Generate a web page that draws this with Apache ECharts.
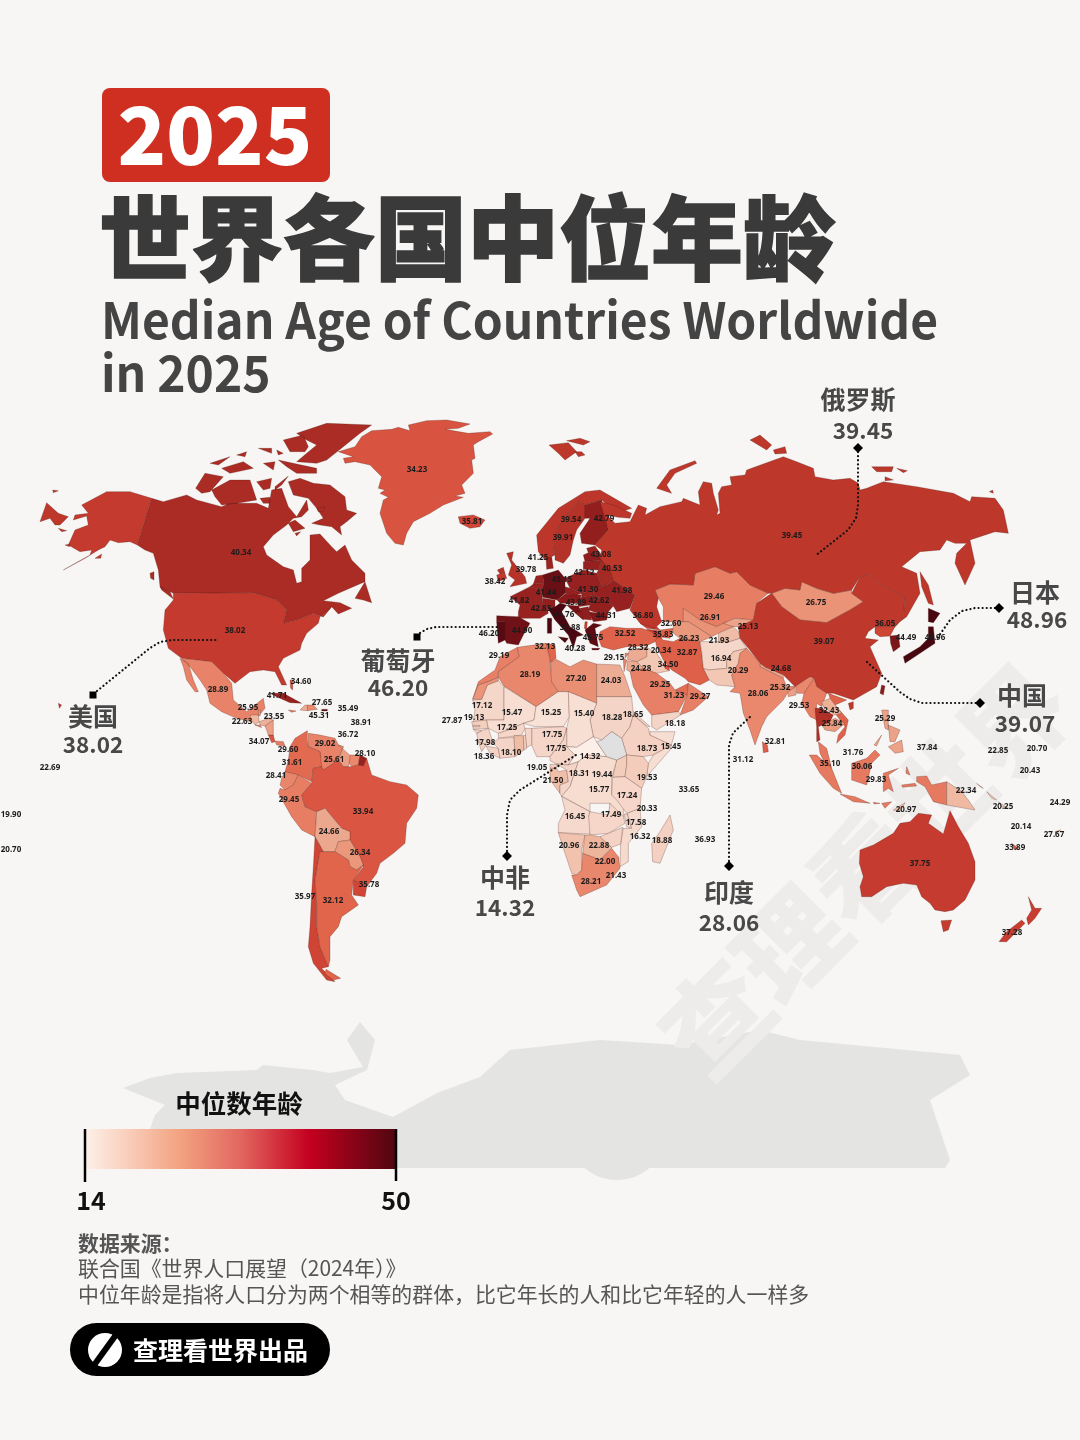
<!DOCTYPE html>
<html>
<head>
<meta charset="utf-8">
<style>html,body{margin:0;padding:0;background:#f7f6f4}#main{width:1080px;height:1440px}</style>
<script src="https://cdn.jsdelivr.net/npm/echarts@6/dist/echarts.min.js"></script>
</head>
<body>
<div id="main"></div>
<script>
const countryNames = ['Greenland','Iceland','Canada','USA','Mexico','Bahamas','Cuba','Dominican Rep.','Puerto Rico','Barbados','Trinidad','Curacao','Belize','Guatemala','Honduras','Costa Rica','Panama','Venezuela','Colombia','Ecuador','Guyana','Suriname','Peru','Brazil','Bolivia','Paraguay','Uruguay','Chile','Argentina','Tonga','Samoa','Kiribati','Morocco','Tunisia','Malta','Algeria','Libya','Egypt','Israel','Lebanon','Iraq','Iran','Syria','Kuwait','Saudi Arabia','UAE','Oman','Yemen','Eritrea','Sudan','Mauritania','Senegal','Cape Verde','Mali','Niger','Chad','Burkina Faso','Nigeria','Cameroon','Guinea','Liberia','Ivory Coast','CAR','Ethiopia','Somalia','Eq. Guinea','Gabon','Congo','Uganda','Kenya','DR Congo','Tanzania','Seychelles','Angola','Zambia','Comoros','Malawi','Mozambique','Madagascar','Mauritius','Namibia','Botswana','Eswatini','Lesotho','South Africa','Norway','Sweden','Finland','Latvia','Denmark','UK','Ireland','Poland','Belarus','Germany','Belgium','Slovakia','Ukraine','France','Switzerland','Austria','Romania','Croatia','Bulgaria','Georgia','Azerbaijan','Armenia','Turkey','Albania','Greece','Spain','Portugal','Kazakhstan','Mongolia','Uzbekistan','Turkmenistan','Kyrgyzstan','Tajikistan','Afghanistan','Pakistan','China','North Korea','South Korea','Japan','Nepal','Bangladesh','India','Myanmar','Vietnam','Cambodia','Philippines','Sri Lanka','Maldives','Brunei','Malaysia','Singapore','Indonesia','Palau','Marshall Is.','Tuvalu','Nauru','PNG','Solomon Is.','Wallis','Timor-Leste','Vanuatu','Fiji','New Caledonia','Australia','New Zealand','Russia'];
const medianAge = [34.23,35.81,40.34,38.02,28.89,34.60,41.71,27.65,45.31,35.49,38.91,36.72,25.95,22.63,23.55,34.07,29.60,29.02,31.61,28.41,25.61,28.10,29.45,33.94,24.66,26.34,35.78,35.97,32.12,22.69,19.90,20.70,29.19,32.13,40.28,28.19,27.20,24.03,29.15,28.32,20.34,32.87,24.28,34.50,29.25,31.23,29.27,18.18,18.65,18.28,17.12,19.13,27.87,15.47,15.25,15.40,17.25,17.75,17.75,17.98,18.36,18.10,14.32,18.73,15.45,19.05,21.50,18.31,19.44,19.53,15.77,17.24,33.65,16.45,17.49,20.33,17.58,16.32,18.88,36.93,20.96,22.88,22.00,21.43,28.21,39.54,39.91,42.79,43.08,41.25,39.78,38.42,42.12,40.53,45.15,41.44,41.30,41.98,41.82,42.83,43.89,42.62,44.76,44.31,36.80,32.60,35.83,32.52,36.88,45.75,44.90,46.20,29.46,26.75,26.91,26.23,25.13,21.93,16.94,20.29,39.07,36.05,44.49,48.96,24.68,25.32,28.06,29.53,32.43,25.84,25.29,32.81,31.12,31.76,30.06,35.10,29.83,37.84,22.85,20.70,20.43,22.34,20.25,24.29,20.97,20.14,27.67,33.89,37.75,37.28,39.45];
// shaded on the map but printed without a number in the reference
const unlabelledNames = ['Western Sahara','Ghana','Zimbabwe','Togo','Benin','Sierra Leone','Gambia','Guinea-Bissau','Jordan','Netherlands','Czechia','Hungary','Serbia','Bosnia','Estonia','Lithuania','Italy','Thailand','Laos','Taiwan','El Salvador','Nicaragua','Haiti','Jamaica'];
const unlabelledAge = [26.5,21.9,18.6,19.2,17.6,18.7,17.5,18.0,24.5,42.0,42.5,43.5,43.0,43.0,41.5,42.5,48.4,40.1,23.5,44.0,28.0,25.5,24.0,31.0];

const legendMin = 14;
const legendMax = 50;
// one stop every 1.5 years from 14 to 50
const legendStops = ['#fdf4ee','#f7ddd1','#f5d7ca','#f4d3c5','#f2c9b7','#f0bfa9','#eeb49c','#ecaa91','#ea9a7e','#e98c70','#e88268','#e4745b','#e0664c','#dc5b45','#d44a3a','#cc4133','#c43a2e','#bd372b','#9c2421','#94201f','#8b1a1c','#5e0b14','#520912','#4a0711','#420510'];

// zoomed crops the outlines were read from: left, top, scale
const frames = {abs:[0,0,1],na:[30,410,3],sa:[220,660,3],eu:[470,480,3],af:[430,640,3],as:[620,430,3],oc:[720,660,3],hi:[0,660,3],gr:[330,410,3],au:[660,680,3]};

const outlines = {
  'Greenland':['gr:25,125 75,110 95,80 125,62 185,58 205,52 240,62 235,45 290,32 350,30 420,42 385,55 345,58 415,70 480,65 488,72 445,95 430,105 435,145 425,150 430,190 410,210 395,225 405,250 375,258 400,262 340,285 300,310 250,335 230,370 220,405 195,400 170,370 150,310 160,270 175,262 150,250 165,240 145,235 155,200 120,165 75,155 45,160 40,145 70,140'],
  'Iceland':['gr:385,320 430,315 465,330 450,350 420,355 390,340'],
  'Canada':['na:365,265 400,275 470,255 500,270 575,290 600,280 680,280 715,295 725,240 755,235 775,290 800,320 830,270 835,300 815,320 790,325 770,345 730,375 700,410 710,435 760,470 790,480 800,520 815,515 815,475 840,450 840,375 870,372 905,410 920,425 945,405 965,450 1005,490 1005,515 970,530 925,550 880,572 930,578 965,595 925,612 905,590 880,620 850,610 800,630 760,640 770,600 740,570 670,548 430,550 390,530 385,480 370,430 345,420 322,405',
    'na:975,565 1005,515 1025,578 1000,570','na:390,530 420,545 430,567 395,540','na:360,490 372,485 372,510 362,505',
    'na:775,215 810,205 850,220 900,225 945,260 950,300 980,310 950,335 930,350 935,375 905,350 870,345 845,340 880,325 860,295 835,265 790,255',
    'na:545,240 600,210 660,210 680,270 620,280 575,285 555,260','na:497,235 525,190 580,200 540,245 515,250',
    'na:800,70 890,40 1025,45 990,70 940,110 890,150 860,160 800,155 830,130 860,105 830,90','na:760,90 820,75 835,110 825,125 780,125',
    'na:540,160 600,140 565,165','na:575,175 640,155 670,175 600,190','na:700,160 735,155 730,180','na:685,115 725,115 725,130','na:740,120 760,130 745,135','na:620,135 650,125 645,140',
    'na:745,150 790,160 860,175 860,190 800,190 770,170','na:680,215 725,205 720,235 700,240','na:735,230 775,198 755,225 735,240','na:775,340 795,330 825,355 790,365','na:690,265 720,262 720,280 700,280','na:795,370 812,365 800,378','na:860,295 885,290 880,305 865,305'],
  'USA':['na:365,265 322,405 300,395 265,398 240,390 225,410 205,420 165,445 100,480 180,435 185,420 150,425 115,405 135,360 175,345 170,318 130,330 135,315 175,310 155,285 230,245 300,245',
    'na:430,550 670,548 740,570 770,600 760,640 800,630 850,610 880,620 905,590 870,620 865,640 830,670 815,700 810,720 760,745 745,770 770,825 755,825 735,785 700,780 660,785 615,820 580,790 545,755 500,750 455,745 415,715 400,660 405,600 430,570',
    'na:105,405 120,402 118,410','na:195,445 215,432 212,445','hi:175,130 185,135 178,145'],
  'Mexico':['na:455,745 500,750 545,755 580,790 605,820 610,870 650,905 700,865 705,895 680,925 665,935 620,925 575,905 540,880 530,840 510,810 480,770','na:450,745 475,760 490,810 505,845 495,845 470,810 460,770'],
  'Bahamas':['sa:210,60 218,62 218,90 212,85'],
  'Cuba':['sa:150,100 190,100 245,130 210,128 170,110'],
  'Haiti':['sa:255,135 262,135 262,152 240,150'],
  'Jamaica':['sa:205,150 228,153 215,157'],
  'Dominican Rep.':['sa:262,135 280,135 292,148 262,152'],
  'Puerto Rico':['sa:305,148 322,148 322,153 305,153'],
  'Belize':['sa:115,150 122,150 120,168 115,165'],
  'Guatemala':['sa:90,165 115,165 118,185 105,195 95,182'],
  'Honduras':['sa:118,185 145,175 160,180 135,198 120,195'],
  'El Salvador':['sa:105,195 120,195 125,203'],
  'Nicaragua':['sa:135,198 160,180 160,225 145,225'],
  'Costa Rica':['sa:145,225 160,225 165,245 155,248'],
  'Panama':['sa:165,243 190,245 195,258 170,255'],
  'Venezuela':['sa:265,220 300,225 345,235 355,255 370,260 355,300 340,310 310,330 300,320 300,275 265,260'],
  'Colombia':['sa:210,260 225,235 262,212 262,240 265,260 300,275 305,320 280,325 275,365 235,345 195,335 205,300'],
  'Ecuador':['sa:185,355 195,335 235,345 220,375 195,390 180,375'],
  'Peru':['sa:180,385 195,390 220,375 235,345 275,370 245,405 255,440 290,455 285,530 245,510 215,470 175,400'],
  'Guyana':['sa:355,255 395,290 385,320 370,320 355,300 370,260'],
  'Suriname':['sa:390,285 420,285 415,315 395,320 388,310'],
  'Brazil':['sa:440,295 455,345 510,365 560,375 595,405 590,445 560,490 555,550 520,580 480,610 470,640 440,680 400,660 430,620 420,590 390,540 390,515 365,505 315,445 290,455 255,440 245,405 275,370 280,325 305,320 310,330 340,310 355,300 370,320 385,320 395,320 415,315 430,318'],
  'Bolivia':['sa:290,455 315,445 365,505 390,515 390,540 355,545 345,575 310,575 285,530'],
  'Paraguay':['sa:355,545 390,540 420,590 430,615 410,630 390,620 385,600 345,575'],
  'Uruguay':['sa:400,660 440,680 435,710 400,705'],
  'Chile':['sa:285,530 310,575 300,575 285,660 290,730 290,800 300,860 325,920 305,925 345,965 320,960 280,910 265,860 270,800 275,700 280,620'],
  'Argentina':['sa:310,575 345,575 385,600 390,620 410,630 430,615 400,660 395,705 415,735 365,770 355,800 330,830 330,900 325,920 300,860 290,800 290,730 285,660 300,575','sa:318,928 362,955 340,960 315,942'],
  'Western Sahara':['af:128,178 145,135 175,125 205,112 205,122 172,135 155,178'],
  'Morocco':['af:262,22 268,50 205,95 205,112 175,125 145,135 128,178 145,125 195,90 210,50'],
  'Algeria':['af:262,22 348,10 360,60 365,125 385,155 318,200 222,138 205,112 205,95 268,50'],
  'Tunisia':['af:345,10 375,15 378,55 362,68 355,40'],
  'Libya':['af:378,58 420,80 460,60 500,72 500,190 415,155 385,155 365,125 362,68'],
  'Egypt':['af:500,72 570,75 585,110 605,170 500,170'],
  'Israel':['af:580,55 590,60 582,95'],
  'Lebanon':['af:585,40 597,40 585,55'],
  'Syria':['af:597,32 650,20 650,50 620,65 592,58'],
  'Jordan':['af:592,62 620,65 640,85 600,95 590,90'],
  'Iraq':['af:650,22 680,40 700,70 718,92 680,100 640,85 620,65 650,50'],
  'Kuwait':['af:700,72 718,78 718,92 705,85'],
  'Saudi Arabia':['af:600,95 640,85 680,100 720,130 735,150 772,165 745,215 665,225 640,195 610,140'],
  'UAE':['af:735,150 775,130 772,165'],
  'Oman':['af:775,130 835,170 790,210 750,225 772,165'],
  'Yemen':['af:665,225 745,215 752,225 680,270 665,260'],
  'Eritrea':['af:605,210 660,260 650,258 610,225'],
  'Sudan':['af:500,170 605,170 610,225 600,260 575,295 545,275 515,300 490,290 480,240 500,190'],
  'Mauritania':['af:128,180 155,178 172,135 205,122 222,140 222,240 170,240 130,245 135,210'],
  'Mali':['af:222,140 318,200 312,240 280,250 235,270 205,280 175,265 170,240 222,240'],
  'Niger':['af:318,200 385,155 415,155 418,230 400,260 315,260 280,250 312,240'],
  'Chad':['af:415,155 500,190 480,240 490,290 440,322 410,320 410,265 418,230'],
  'Senegal':['af:125,245 170,240 175,265 130,268'],
  'Gambia':['af:130,256 150,256 150,260 130,260'],
  'Guinea-Bissau':['af:130,268 155,272 140,280'],
  'Guinea':['af:140,280 155,272 175,265 190,310 170,315 145,305'],
  'Sierra Leone':['af:145,305 168,315 155,335'],
  'Liberia':['af:168,318 205,325 210,355 180,340'],
  'Ivory Coast':['af:190,310 205,295 252,292 255,350 210,355 205,325'],
  'Burkina Faso':['af:205,280 235,270 280,250 285,265 275,285 205,295'],
  'Ghana':['af:252,287 280,287 282,330 255,350'],
  'Togo':['af:280,287 288,285 290,325 282,330'],
  'Benin':['af:285,265 305,265 305,315 290,322'],
  'Nigeria':['af:305,265 400,260 410,265 400,300 360,350 320,350 305,315'],
  'Cameroon':['af:360,350 400,300 410,265 410,320 435,345 415,375 380,372 360,362'],
  'CAR':['af:410,320 440,322 490,290 500,305 530,350 470,345 445,365 415,375 435,345'],
  'Eq. Guinea':['af:360,373 380,373 380,385 360,385'],
  'Gabon':['af:360,385 380,385 385,395 410,390 415,425 390,435 390,460 360,420'],
  'Congo':['af:415,375 445,365 420,440 395,470 390,460 390,435 415,425 410,390 380,372'],
  'DR Congo':['af:445,365 470,345 530,350 560,360 545,415 545,465 580,490 580,530 540,525 540,490 480,490 480,515 395,468 420,440'],
  'Uganda':['af:560,360 590,345 590,375 585,410 548,412'],
  'Kenya':['af:590,345 640,350 655,370 650,410 635,445 585,410 590,375'],
  'Ethiopia':['af:600,260 610,225 655,265 660,285 725,315 670,345 640,350 590,345 575,295'],
  'Somalia':['af:660,275 735,275 720,330 650,410 655,370 670,345 725,315 660,285'],
  'Tanzania':['af:548,412 585,410 635,445 630,505 590,520 560,480 545,465'],
  'Angola':['af:395,470 480,515 476,530 495,522 480,582 385,578 385,550 405,510'],
  'Zambia':['af:480,515 535,525 540,490 580,530 585,550 535,580 480,585 476,530'],
  'Malawi':['af:582,522 592,522 605,565 590,560'],
  'Mozambique':['af:592,520 630,505 635,560 595,610 595,665 570,680 572,612 580,565 605,565'],
  'Zimbabwe':['af:535,580 578,562 572,612 545,622 510,590'],
  'Namibia':['af:385,578 465,585 455,630 455,690 440,705 425,700 405,640'],
  'Botswana':['af:465,585 480,585 510,590 545,622 510,660 490,652 458,640'],
  'South Africa':['af:425,705 440,705 455,690 458,640 490,652 510,660 545,625 565,650 570,685 530,735 450,770 440,750'],
  'Eswatini':['af:555,655 566,652 566,668 555,668'],
  'Lesotho':['af:520,712 535,704 538,716 528,724'],
  'Madagascar':['af:720,525 730,570 690,670 668,665 665,610 690,575'],
  'Norway':['eu:200,165 265,85 345,35 390,30 485,85 440,100 395,60 345,75 325,65 270,130 250,190 255,225 225,240 205,215'],
  'Sweden':['eu:250,190 270,130 325,65 345,75 345,115 320,150 310,180 300,225 280,250 255,240 255,225'],
  'Finland':['eu:345,75 395,60 415,150 375,195 335,190 330,160 360,115 345,115'],
  'Denmark':['eu:228,235 245,230 250,265 230,268'],
  'UK':['eu:110,220 130,215 125,240 165,290 170,310 120,320 135,300 115,285 125,255','eu:82,270 100,262 105,280 90,282'],
  'Ireland':['eu:80,285 90,282 105,280 110,295 85,305'],
  'France':['eu:120,350 180,320 215,330 218,368 232,385 235,400 210,415 145,415 145,395 150,375','eu:235,415 245,420 238,432','sa:420,285 440,295 430,318 415,315'],
  'Netherlands':['eu:198,288 218,285 222,310 190,312'],
  'Belgium':['eu:180,320 190,312 222,310 215,330'],
  'Germany':['eu:218,285 265,270 285,295 285,340 262,360 218,352 215,330 222,310'],
  'Switzerland':['eu:218,355 255,360 255,380 232,385 218,368'],
  'Poland':['eu:285,295 340,270 380,280 395,320 370,330 335,340 300,325'],
  'Estonia':['eu:350,205 375,198 392,222 355,218'],
  'Latvia':['eu:340,225 355,218 392,222 395,240 345,245'],
  'Lithuania':['eu:340,245 395,240 385,270 340,268'],
  'Belarus':['eu:380,280 385,270 395,240 420,250 430,300 420,310 395,320'],
  'Ukraine':['eu:395,320 420,310 430,300 495,345 480,385 440,395 430,378 405,360 370,345 370,330'],
  'Czechia':['eu:285,320 300,325 335,340 320,345 300,345 285,340'],
  'Slovakia':['eu:335,340 370,330 370,345 335,352'],
  'Austria':['eu:262,360 285,342 335,345 320,370 270,370'],
  'Hungary':['eu:320,355 335,352 370,345 360,375 325,380'],
  'Romania':['eu:370,345 405,360 430,378 415,395 385,400 355,390 360,375'],
  'Bulgaria':['eu:355,395 385,400 415,395 410,420 370,425'],
  'Serbia':['eu:330,385 355,380 365,420 340,418'],
  'Croatia':['eu:290,375 325,378 335,395 340,420 315,398'],
  'Bosnia':['eu:315,398 335,395 340,418'],
  'Albania':['eu:345,425 352,425 350,450 343,445'],
  'Greece':['eu:345,450 370,430 395,435 375,445 385,500 360,490','eu:365,505 390,505 385,510 367,510'],
  'Italy':['eu:232,385 255,380 270,370 290,375 275,395 300,440 340,465 320,470 310,505 295,465 255,420 240,395','eu:265,470 295,475 285,488','eu:232,415 245,415 245,460 232,460'],
  'Spain':['eu:80,407 145,410 180,430 160,465 145,495 110,490 105,480 105,425 80,425'],
  'Portugal':['eu:80,425 105,425 105,480 85,490'],
  'Turkey':['eu:390,455 420,440 470,445 515,445 545,455 560,475 555,485 530,497 470,500 430,510 395,500 385,475'],
  'Georgia':['eu:510,430 560,440 570,450 530,445'],
  'Armenia':['eu:530,448 570,452 575,475 545,470'],
  'Azerbaijan':['eu:570,450 610,445 600,475 575,472'],
  'Iran':['as:100,605 130,630 160,635 180,625 200,628 240,635 245,670 250,715 268,750 240,765 205,755 195,745 155,720 130,690 110,650'],
  'Kazakhstan':['as:105,480 150,462 220,465 225,430 285,410 330,430 350,425 390,465 445,490 420,510 410,520 400,570 345,565 310,580 290,590 240,570 190,535 190,575 130,575 130,530 115,505'],
  'Uzbekistan':['as:190,535 240,570 290,590 320,575 340,590 315,600 295,610 275,620 205,575 190,575'],
  'Turkmenistan':['as:160,580 190,575 205,575 275,620 240,635 200,628 180,625 160,610'],
  'Kyrgyzstan':['as:310,580 345,565 400,570 385,590 340,590'],
  'Tajikistan':['as:295,610 340,590 355,605 360,625 330,635 295,635'],
  'Afghanistan':['as:245,665 240,635 295,635 330,635 360,625 380,655 340,665 320,690 320,715 265,720 250,715'],
  'Pakistan':['as:250,715 265,720 320,715 320,690 340,665 380,655 360,670 355,700 335,735 345,770 290,765 268,750'],
  'China':['as:355,590 400,570 410,520 455,490 485,530 540,570 620,578 690,540 730,515 695,490 720,440 745,432 790,470 855,500 850,560 825,590 765,590 745,605 735,625 775,630 750,650 785,730 770,770 700,810 640,790 620,790 590,770 582,745 570,740 525,770 500,745 490,735 435,712 420,700 385,655 360,625','oc:385,130 400,125 400,145 390,150'],
  'Mongolia':['as:455,490 495,475 540,480 545,455 590,475 640,490 695,480 695,490 730,515 690,540 620,578 540,570 485,530'],
  'North Korea':['as:765,590 825,590 810,618 780,620 765,610'],
  'South Korea':['as:810,618 835,615 840,650 820,665 812,640'],
  'Japan':['as:925,535 960,550 940,578 925,575','as:925,590 940,590 945,640 900,670 855,700 850,680 900,650 925,625'],
  'Taiwan':['oc:485,75 495,78 490,105 480,100'],
  'Nepal':['as:420,700 435,712 490,735 490,745 420,710'],
  'Bangladesh':['as:500,770 525,770 528,795 505,800'],
  'India':['as:360,670 380,655 420,700 420,710 490,745 500,770 525,770 570,740 582,745 552,790 530,790 528,770 505,785 490,810 440,860 425,890 405,945 390,900 370,850 360,790 330,785 345,770 335,735 355,700'],
  'Myanmar':['as:552,790 582,745 590,770 620,790 605,830 590,820 590,870 570,860 545,820'],
  'Thailand':['oc:285,145 305,145 340,165 330,185 295,200 300,240 290,245 290,200'],
  'Laos':['oc:305,125 330,115 365,160 345,165 310,140'],
  'Vietnam':['oc:325,100 380,120 345,135 385,180 375,225 350,250 355,225 375,200 345,160 330,115'],
  'Cambodia':['oc:305,195 345,175 375,190 345,215 315,210'],
  'Malaysia':['oc:295,245 320,265 335,325 320,320 300,280','oc:395,310 440,295 465,270 480,285 455,310 425,320 395,325'],
  'Indonesia':['oc:268,285 290,285 335,325 365,400 340,385 300,340','oc:360,402 405,410 450,430 400,425','oc:395,325 425,320 455,310 440,375 395,360','oc:490,340 535,325 505,345 520,395 505,385 490,395','oc:460,427 480,430 462,432','oc:485,430 515,425 495,445','oc:560,320 570,345 558,340','oc:545,375 585,370 590,378 548,382','oc:590,350 620,348 635,375 680,365 680,435 640,425 615,380 590,365'],
  'Timor-Leste':['oc:520,450 555,428 540,455'],
  'PNG':['oc:680,365 720,390 745,420 765,450 735,445 680,435','oc:770,370 790,385 780,380'],
  'Solomon Is.':['oc:800,395 830,420 815,415','oc:835,425 860,442 845,440'],
  'Philippines':['oc:485,150 505,150 505,210 495,205','oc:505,195 540,210 525,245 510,245','oc:505,260 545,240 550,275 525,280','oc:462,255 485,225 470,258'],
  'Sri Lanka':['oc:127,245 142,255 145,275 130,278'],
  'Australia':['au:600,510 640,495 700,460 720,430 750,425 775,400 815,405 805,430 850,462 870,392 895,440 925,490 945,545 945,600 915,660 880,690 855,695 825,690 810,670 785,650 770,615 730,610 680,620 635,650 605,650 600,620 610,590 598,550','au:843,722 875,720 865,750 850,755'],
  'New Zealand':['au:1105,650 1125,685 1145,685 1125,715 1105,735 1100,715 1115,690','au:1085,720 1095,730 1060,765 1040,785 1017,785 1040,755'],
  'New Caledonia':['oc:875,550 895,565 885,570'],
  'Fiji':['oc:1005,515 1022,510 1008,522'],
  'Russia':['as:-60,215 -20,225 35,250 30,265 -5,262 -40,255 -15,280 30,275 55,225 80,235 75,255 120,230 185,215 190,205 240,225 235,185 250,155 275,160 280,190 295,240 290,255 300,250 295,190 305,170 335,165 330,140 375,135 380,120 490,80 530,95 580,115 585,140 640,150 690,145 715,160 720,180 740,175 790,155 890,170 1000,190 1050,215 1055,200 1125,205 1150,240 1165,310 1125,305 1050,330 1065,400 1035,465 1005,400 1010,370 1040,340 1005,340 980,330 960,360 900,365 845,410 890,430 900,490 860,560 840,575 825,590 850,560 855,500 790,470 745,432 720,440 695,480 640,490 590,475 545,455 540,480 495,475 455,490 445,490 390,465 350,425 330,430 285,410 225,430 220,465 150,462 105,480 115,505 110,530 125,575 105,595 60,580 30,540 45,495 -20,450 -30,420 -60,385 -55,360 -75,345 -35,300',
    'as:900,425 925,465 940,525 925,520 905,470','as:110,175 150,120 225,92 230,100 165,130 140,165 155,190','as:390,30 420,15 455,45 440,60','as:460,60 495,50 500,70 465,72','as:755,110 820,110 815,125 770,125','as:830,115 862,122 850,128','as:795,140 820,150 795,152','as:1108,185 1118,180 1120,190',
    'na:30,335 50,278 85,310 115,320 90,345 75,345 60,325','na:68,240 85,242 70,248','na:85,355 110,362 95,365','gr:657,105 715,98 740,125 705,150 685,130','gr:710,92 750,85 780,95 760,105','gr:735,125 755,125 765,135 745,140']
};

const labelSpots = {
  'Greenland':[417,470],'Iceland':[472,522],'Canada':[241,553],'USA':[235,631],'Mexico':[218,690],'Bahamas':[301,682],'Cuba':[277,696],'Dominican Rep.':[322,703],'Puerto Rico':[319,716],'Barbados':[348,709],'Trinidad':[361,723],'Curacao':[348,735],'Belize':[248,708],'Guatemala':[242,722],'Honduras':[274,717],'Costa Rica':[259,742],'Panama':[288,750],'Venezuela':[325,744],'Colombia':[292,763],'Ecuador':[276,776],'Guyana':[334,760],'Suriname':[365,754],'Peru':[289,800],'Brazil':[363,812],'Bolivia':[329,832],'Paraguay':[360,853],'Uruguay':[369,885],'Chile':[305,897],'Argentina':[333,901],'Tonga':[50,768],'Samoa':[11,815],'Kiribati':[11,850],
  'Morocco':[499,656],'Tunisia':[545,647],'Malta':[575,649],'Algeria':[530,675],'Libya':[576,679],'Egypt':[611,681],'Israel':[614,658],'Lebanon':[638,648],'Iraq':[661,651],'Iran':[687,653],'Syria':[641,669],'Kuwait':[668,665],'Saudi Arabia':[660,685],'UAE':[674,696],'Oman':[700,697],'Yemen':[675,724],'Eritrea':[633,715],'Sudan':[612,718],'Mauritania':[482,706],'Senegal':[474,718],'Cape Verde':[452,721],'Mali':[512,713],'Niger':[551,713],'Chad':[584,714],'Burkina Faso':[507,728],'Nigeria':[552,735],'Cameroon':[556,749],'Guinea':[485,743],'Liberia':[484,757],'Ivory Coast':[511,753],'CAR':[590,757],'Ethiopia':[647,749],'Somalia':[671,747],'Eq. Guinea':[537,768],'Gabon':[553,781],'Congo':[579,774],'Uganda':[602,775],'Kenya':[647,778],'DR Congo':[599,790],'Tanzania':[627,796],'Seychelles':[689,790],'Angola':[575,817],'Zambia':[611,815],'Comoros':[647,809],'Malawi':[636,823],'Mozambique':[640,837],'Madagascar':[662,841],'Mauritius':[705,840],'Namibia':[569,846],'Botswana':[599,846],'Eswatini':[605,862],'Lesotho':[616,876],'South Africa':[591,882],
  'Norway':[571,520],'Sweden':[563,538],'Finland':[604,519],'Latvia':[601,555],'Denmark':[538,558],'UK':[526,570],'Ireland':[495,582],'Poland':[584,573],'Belarus':[612,569],'Germany':[562,580],'Belgium':[546,593],'Slovakia':[588,590],'Ukraine':[622,591],'France':[519,601],'Switzerland':[541,609],'Austria':[576,603],'Romania':[599,601],'Croatia':[564,615],'Bulgaria':[606,616],'Georgia':[643,616],'Azerbaijan':[671,624],'Armenia':[663,635],'Turkey':[625,634],'Albania':[570,628],'Greece':[593,638],'Spain':[522,631],'Portugal':[489,634],
  'Kazakhstan':[714,597],'Mongolia':[816,603],'Uzbekistan':[710,618],'Turkmenistan':[689,639],'Kyrgyzstan':[748,627],'Tajikistan':[719,641],'Afghanistan':[721,659],'Pakistan':[738,671],'China':[824,642],'North Korea':[885,624],'South Korea':[906,638],'Japan':[935,638],'Nepal':[781,669],'Bangladesh':[780,688],'India':[758,694],'Myanmar':[799,706],'Vietnam':[829,711],'Cambodia':[832,724],'Philippines':[885,719],'Sri Lanka':[775,742],'Maldives':[743,760],'Brunei':[853,753],'Malaysia':[862,767],'Singapore':[830,764],'Indonesia':[876,780],'Palau':[927,748],'Marshall Is.':[998,751],'Tuvalu':[1037,749],'Nauru':[1030,771],'PNG':[966,791],'Solomon Is.':[1003,807],'Wallis':[1060,803],'Timor-Leste':[906,810],'Vanuatu':[1021,827],'Fiji':[1054,835],'New Caledonia':[1015,848],'Australia':[920,864],'New Zealand':[1012,933],'Russia':[792,536]
};

// callouts: text, value, marker, dotted leader
const callouts = [
  {name:'俄罗斯',value:'39.45',at:[858,399],valueAt:[863,430],marker:'diamond',mark:[858,448],path:[[858,452],[858,505],[856,518],[848,530],[815,556]]},
  {name:'日本',value:'48.96',at:[1035,592],valueAt:[1037,619],marker:'diamond',mark:[999,608],path:[[995,608],[975,608],[962,611],[950,620],[936,640]]},
  {name:'中国',value:'39.07',at:[1022,695],valueAt:[1025,723],marker:'diamond',mark:[980,703],path:[[867,662],[900,692],[910,699],[922,703],[976,703]]},
  {name:'葡萄牙',value:'46.20',at:[398,660],valueAt:[398,687],marker:'square',mark:[417,637],path:[[420,633],[427,629],[436,627],[497,627]]},
  {name:'美国',value:'38.02',at:[93,716],valueAt:[93,744],marker:'square',mark:[93,695],path:[[97,691],[150,648],[160,642],[172,640],[219,640]]},
  {name:'中非',value:'14.32',at:[505,877],valueAt:[505,907],marker:'diamond',mark:[507,856],path:[[507,851],[507,815],[510,800],[520,790],[576,755]]},
  {name:'印度',value:'28.06',at:[729,892],valueAt:[729,922],marker:'diamond',mark:[729,866],path:[[729,861],[729,745],[733,733],[751,716]]}
];

const toGeoRing = ring => {
  const [frameName, pts] = ring.split(':');
  const [ox, oy, s] = frames[frameName];
  const coords = pts.trim().split(/\s+/).map(p => {
    const [x, y] = p.split(',').map(Number);
    return [ox + x / s, -(oy + y / s)];
  });
  coords.push(coords[0]);
  return [coords];
};

const allNames = countryNames.concat(unlabelledNames, ['South Sudan']);
outlines['South Sudan'] = ['af:500,305 515,300 545,275 575,295 590,345 560,360 530,350'];

const features = allNames.map(name => {
  const spot = labelSpots[name];
  let rings = (outlines[name] || []).map(toGeoRing);
  // tiny island states have no visible outline, only their number
  if (!rings.length) {
    rings = [[[[spot[0], -spot[1]], [spot[0] + 0.1, -spot[1]], [spot[0], -spot[1] - 0.1], [spot[0], -spot[1]]]]];
  }
  return {
    type: 'Feature',
    properties: spot ? {name: name, cp: [spot[0], -spot[1]]} : {name: name},
    geometry: {type: 'MultiPolygon', coordinates: rings}
  };
});

echarts.registerMap('worldAge', {type: 'FeatureCollection', features: features});

const chart = echarts.init(document.getElementById('main'));

const seriesData = countryNames.map((n, i) => ({name: n, value: medianAge[i]}))
  .concat(unlabelledNames.map((n, i) => ({name: n, value: unlabelledAge[i], label: {show: false}})));

const cjk = '"Noto Sans CJK SC"';
const text = (str, x, y, size, color, weight, align, z) => ({
  type: 'text', x: x, y: y, z: z === undefined ? 100 : z, silent: true,
  style: {text: str, fill: color, font: `${weight} ${size}px ${cjk}`, textAlign: align || 'left', textVerticalAlign: 'middle'}
});

const landShadow = [[123,1088],[150,1078],[177,1073],[257,1070],[263,1065],[313,1070],[330,1073],[363,1067],[347,1040],[360,1022],[375,1040],[367,1070],[335,1085],[345,1100],[393,1117],[437,1093],[480,1077],[510,1050],[600,1040],[680,1045],[760,1030],[800,1040],[960,1055],[970,1075],[930,1100],[950,1160],[945,1168],[398,1168],[150,1168],[150,1129],[155,1115],[165,1105]];

const heading = text('世界各国中位年龄',99,238,92,'#3a3a3a',900);
heading.style.stroke = '#3a3a3a';
heading.style.lineWidth = 1.5;
const subHead1 = text('Median Age of Countries Worldwide',101,320,50,'#444444',600);
subHead1.scaleX = 0.96;
const subHead2 = text('in 2025',101,373,50,'#444444',600);
subHead2.scaleX = 0.96;

const decoration = [
  {type:'polygon',z:0,silent:true,shape:{points:landShadow},style:{fill:'#e4e4e3'}},
  {type:'circle',z:0,silent:true,shape:{cx:617,cy:1130,r:50},style:{fill:'#e4e4e3'}},
  {type:'text',z:1,silent:true,x:865,y:870,rotation:Math.PI/4,style:{text:'查理看世界',fill:'#edecea',font:`900 105px ${cjk}`,textAlign:'center',textVerticalAlign:'middle'}},
  {type:'rect',z:100,silent:true,shape:{x:102,y:88,width:228,height:94,r:8},style:{fill:'#cf2f20'}},
  text('2025',215,135,80,'#ffffff',900,'center'),
  heading,
  subHead1,
  subHead2,
  {type:'rect',z:100,silent:true,shape:{x:85,y:1129,width:312,height:40},style:{fill:new echarts.graphic.LinearGradient(0,0,1,0,[{offset:0,color:'#fdf1ea'},{offset:0.3,color:'#f3a482'},{offset:0.5,color:'#e2665f'},{offset:0.72,color:'#c4001f'},{offset:1,color:'#4f0710'}])}},
  {type:'line',z:101,silent:true,shape:{x1:85,y1:1129,x2:85,y2:1182},style:{stroke:'#000',lineWidth:2.5}},
  {type:'line',z:101,silent:true,shape:{x1:396,y1:1129,x2:396,y2:1181},style:{stroke:'#000',lineWidth:2.5}},
  text('中位数年龄',239,1103,25.5,'#111111',700,'center'),
  text(String(legendMin),91,1200,25,'#111111',700,'center'),
  text(String(legendMax),396,1200,25,'#111111',700,'center'),
  text('数据来源：',78,1243,20.9,'#555555',700),
  text('联合国《世界人口展望（2024年）》',78,1268,20.9,'#555555',400),
  text('中位年龄是指将人口分为两个相等的群体，比它年长的人和比它年轻的人一样多',78,1294,20.9,'#555555',400),
  {type:'rect',z:100,silent:true,shape:{x:70,y:1323,width:260,height:53,r:26.5},style:{fill:'#000'}},
  {type:'circle',z:101,silent:true,shape:{cx:105,cy:1350,r:17},style:{fill:'#fff'}},
  {type:'rect',z:102,silent:true,x:105,y:1350,rotation:-Math.PI/5,shape:{x:-3,y:-20,width:6,height:40},style:{fill:'#000'}},
  text('查理看世界出品',133,1350,25,'#ffffff',700)
];

callouts.forEach(c => {
  decoration.push({type:'polyline',z:50,silent:true,shape:{points:c.path},style:{fill:'none',stroke:'#111',lineWidth:2.2,lineDash:[0.1,4],lineCap:'round'}});
  const m = c.mark;
  if (c.marker === 'square') {
    decoration.push({type:'rect',z:51,silent:true,shape:{x:m[0]-3.5,y:m[1]-3.5,width:7,height:7},style:{fill:'#000'}});
  } else {
    decoration.push({type:'polygon',z:51,silent:true,shape:{points:[[m[0],m[1]-5],[m[0]+5,m[1]],[m[0],m[1]+5],[m[0]-5,m[1]]]},style:{fill:'#000'}});
  }
  decoration.push(text(c.name,c.at[0],c.at[1],25,'#484848',700,'center'));
  decoration.push(text(c.value,c.valueAt[0],c.valueAt[1],22.5,'#484848',600,'center'));
});

chart.setOption({
  animation: false,
  backgroundColor: '#f7f6f4',
  visualMap: {
    show: false,
    type: 'continuous',
    min: legendMin,
    max: legendMax,
    seriesIndex: 0,
    inRange: {color: legendStops}
  },
  graphic: {elements: decoration},
  series: [{
    type: 'map',
    map: 'worldAge',
    roam: false,
    silent: true,
    z: 5,
    aspectScale: 1,
    boundingCoords: [[0, 0], [1080, -1440]],
    layoutCenter: ['50%', '50%'],
    layoutSize: 1440,
    itemStyle: {areaColor: '#e0e0e0', borderColor: 'rgba(70,25,15,0.5)', borderWidth: 0.5},
    label: {
      show: true,
      fontFamily: '"Noto Sans"',
      fontSize: 8,
      fontWeight: 700,
      color: '#1c1c1c',
      formatter: p => (isNaN(p.value) ? '' : p.value.toFixed(2))
    },
    data: seriesData
  }]
});
</script>
</body>
</html>
